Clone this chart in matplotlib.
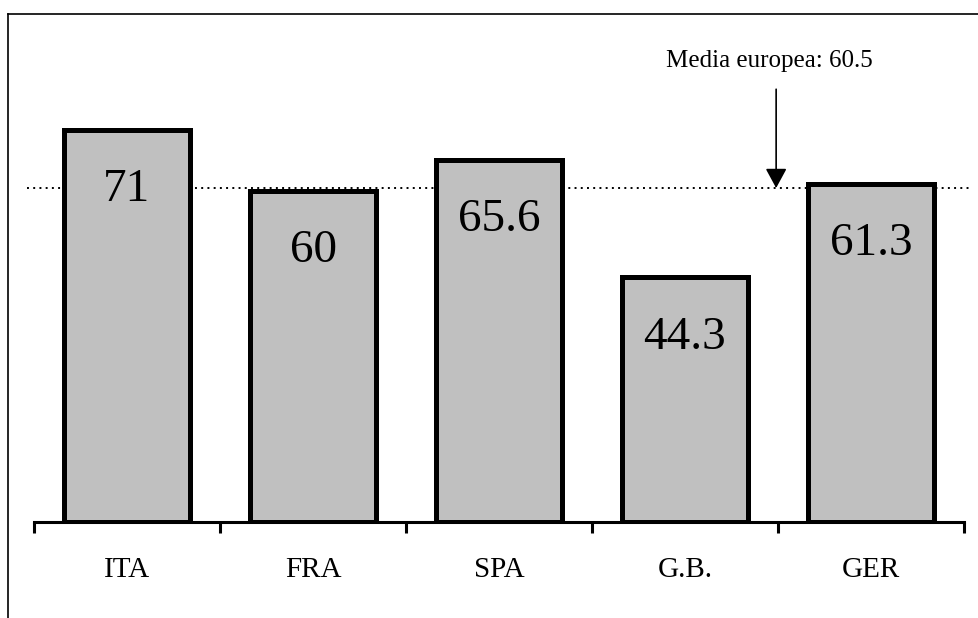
import matplotlib
matplotlib.use("Agg")
import matplotlib.pyplot as plt
from matplotlib.lines import Line2D

countries = ["ITA", "FRA", "SPA", "G.B.", "GER"]
values = [71, 60, 65.6, 44.3, 61.3]
eu_mean = 60.5
mean_label = "Media europea: 60.5"

plt.rcParams["font.family"] = ["Liberation Serif", "DejaVu Serif"]

W, H = 979, 618
fig = plt.figure(figsize=(W / 100, H / 100), dpi=100)

# axes placed in pixel terms: categories span x 34..964, baseline at y 522
left, right = 34, 964
bottom_px = 522
ymax = 80
px_per_unit = 5.52
top_px = bottom_px - ymax * px_per_unit
ax = fig.add_axes([left / W, 1 - bottom_px / H, (right - left) / W, (bottom_px - top_px) / H])

x = list(range(len(countries)))
ax.bar(x, values, width=0.68, color="#c0c0c0", edgecolor="black", linewidth=3.6, zorder=3)

for xi, v in zip(x, values):
    ax.text(xi, v - 12.9, f"{v:g}", ha="center", va="baseline", fontsize=34, zorder=4)

ax.set_xlim(-0.5, len(countries) - 0.5)
ax.set_ylim(0, ymax)

# dotted mean line, slightly wider than the axis
ax.plot([-0.54, len(countries) - 0.46], [eu_mean, eu_mean], color="black", linestyle=(0, (1, 2.2)),
        linewidth=1.4, clip_on=False, zorder=2)

# arrow pointing at the mean line
arrow_x = 3.49
ax.annotate("", xy=(arrow_x, eu_mean), xytext=(arrow_x, 78.4),
            arrowprops=dict(arrowstyle="-|>,head_length=1.2,head_width=0.65", color="black", lw=1.2,
                            shrinkA=0, shrinkB=0), annotation_clip=False)
ax.text(arrow_x - 0.035, 82.4, mean_label, ha="center", va="baseline", fontsize=18, clip_on=False)

for s in ["top", "right", "left"]:
    ax.spines[s].set_visible(False)
ax.spines["bottom"].set_linewidth(2.2)
ax.set_yticks([])

# boundary ticks between categories
ax.set_xticks([i - 0.5 for i in range(len(countries) + 1)])
ax.set_xticklabels([])
ax.tick_params(axis="x", direction="out", length=8, width=2.2)

# category names centred under each bar
for xi, name in zip(x, countries):
    ax.text(xi, -9.96, name, ha="center", va="baseline", fontsize=21, clip_on=False)

# frame lines along the top and left of the figure
fig.add_artist(Line2D([8 / W, 1], [1 - 14 / H, 1 - 14 / H], transform=fig.transFigure, color="black", lw=1.2))
fig.add_artist(Line2D([8 / W, 8 / W], [0, 1 - 14 / H], transform=fig.transFigure, color="black", lw=1.2))

fig.savefig("out.png", dpi=100)
